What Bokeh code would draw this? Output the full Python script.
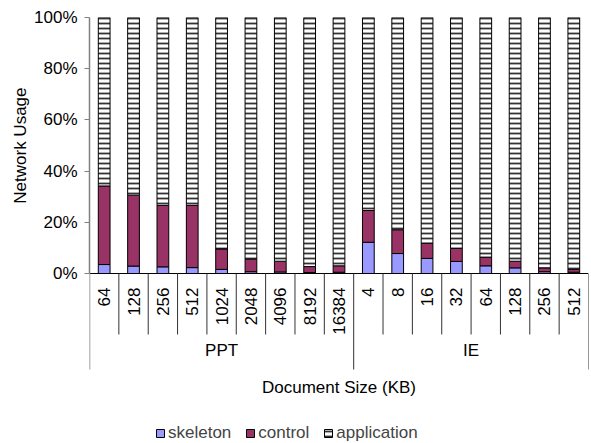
import numpy as np
from bokeh.plotting import figure
from bokeh.models import (FactorRange, Range1d, FixedTicker, PrintfTickFormatter,
                          Legend, LegendItem, ColumnDataSource, Title)
from bokeh.core.properties import value
from bokeh.embed import file_html
from bokeh.resources import INLINE

# ---- data -------------------------------------------------------------
groups = ["PPT", "IE"]
ppt_sizes = ["64", "128", "256", "512", "1024", "2048", "4096", "8192", "16384"]
ie_sizes = ["4", "8", "16", "32", "64", "128", "256", "512"]

# share of network traffic, percent
ppt_skeleton = [3.5, 2.9, 2.6, 2.3, 1.6, 0.7, 0.6, 0.4, 0.5]
ppt_control = [30.7, 27.7, 24.0, 24.3, 8.0, 4.9, 4.2, 2.3, 2.5]
ie_skeleton = [12.2, 7.8, 5.9, 4.7, 3.0, 2.2, 0.7, 0.5]
ie_control = [12.4, 9.3, 5.9, 5.1, 3.4, 2.6, 1.5, 1.1]

y_ticks = [0, 20, 40, 60, 80, 100]
series_names = ["skeleton", "control", "application"]

# ---- derived table ----------------------------------------------------
factors = [("PPT", s) for s in ppt_sizes] + [("IE", s) for s in ie_sizes]
sizes = ppt_sizes + ie_sizes
skeleton = ppt_skeleton + ie_skeleton
control = ppt_control + ie_control
application = [round(100 - a - b, 2) for a, b in zip(skeleton, control)]

source = ColumnDataSource(dict(x=factors, skeleton=skeleton,
                               control=control, application=application))

# ---- styling / layout constants ----------------------------------------
FONT = "Liberation Sans"
FS = "17px"
W, H = 591, 443
LEFT, TOP, RIGHT = 89, 17, 3
PX_PER_PCT = 2.56                      # vertical pixels per percent
Y_MIN = 100 - (H - TOP) / PX_PER_PCT   # frame runs to the bottom edge

SKEL_COLOR = "#9999FF"
CTRL_COLOR = "#993366"
AXIS_GRAY = "#808080"
RULE = "#333333"

def pct_below(px):
    """Data y for a point `px` pixels below the zero line."""
    return -px / PX_PER_PCT

p = figure(width=W, height=H,
           x_range=FactorRange(*factors, group_padding=0, subgroup_padding=0,
                               factor_padding=0, range_padding=0),
           y_range=Range1d(Y_MIN, 100),
           output_backend="svg", toolbar_location=None,
           x_axis_location=None,
           min_border_left=LEFT, min_border_top=TOP,
           min_border_right=RIGHT, min_border_bottom=0)
p.outline_line_color = None
p.grid.visible = False
p.background_fill_color = "white"

# ---- stacked bars -----------------------------------------------------
bars = p.vbar_stack(series_names, x="x", width=0.4, source=source,
                    fill_color=[SKEL_COLOR, CTRL_COLOR, "white"],
                    line_color="black", line_width=1)
app = bars[2].glyph
app.hatch_pattern = "horizontal_line"
app.hatch_color = RULE
app.hatch_scale = 5
app.hatch_weight = 1.8

# ---- category table beneath the bars ----------------------------------
first, last = factors[0], factors[-1]
p.segment(x0=[first + (-0.5,)], y0=[0], x1=[last + (0.5,)], y1=[0],
          line_color="black", line_width=1)

cat_lines = [f + (-0.5,) for f in factors[1:] if f != ("IE", ie_sizes[0])]
p.segment(x0=cat_lines, y0=0, x1=cat_lines, y1=pct_below(61),
          line_color=RULE, line_width=1)

group_lines = [("IE", ie_sizes[0], -0.5), last + (0.5,)]
p.segment(x0=group_lines, y0=0, x1=group_lines, y1=pct_below(96),
          line_color=RULE, line_width=1)
p.segment(x0=[first + (-0.5,)], y0=[0], x1=[first + (-0.5,)], y1=[pct_below(96)],
          line_color=AXIS_GRAY, line_width=1.5)

p.text(x=factors, y=pct_below(14), text=sizes, angle=np.pi / 2,
       text_align="right", text_baseline="middle",
       text_font=value(FONT), text_font_size=FS, text_color="black")
p.text(x=groups, y=pct_below(77), text=groups,
       text_align="center", text_baseline="middle",
       text_font=value(FONT), text_font_size=FS, text_color="black")
mid = factors[len(factors) // 2]
p.text(x=[mid], y=[pct_below(114)], text=["Document Size (KB)"],
       text_align="center", text_baseline="middle",
       text_font=value(FONT), text_font_size=FS, text_color="black")

# ---- y axis -----------------------------------------------------------
ax = p.yaxis[0]
ax.bounds = (0, 100)
ax.ticker = FixedTicker(ticks=y_ticks)
ax.formatter = PrintfTickFormatter(format="%d%%")
ax.axis_line_color = AXIS_GRAY
ax.axis_line_width = 1.5
ax.major_tick_line_color = AXIS_GRAY
ax.major_tick_out = 5
ax.major_tick_in = 0
ax.minor_tick_line_color = None
ax.major_label_standoff = 7
ax.major_label_text_font = FONT
ax.major_label_text_font_size = FS
ax.major_label_text_color = "black"

# axis title, pushed up so it sits beside the 0-100% span
p.add_layout(Title(text="Network Usage", align="right", offset=70,
                   text_font=FONT, text_font_size=FS, text_font_style="normal",
                   text_color="black", standoff=4), "left")

# ---- legend -----------------------------------------------------------
legend = Legend(items=[LegendItem(label=n, renderers=[r]) for n, r in zip(series_names, bars)],
                orientation="horizontal", location=(66, 0),
                label_text_font=FONT, label_text_font_size=FS,
                glyph_width=10, glyph_height=10, label_standoff=3, spacing=14,
                label_height=18, padding=0, margin=0,
                border_line_color=None, background_fill_alpha=0)
p.add_layout(legend)

open("out.html", "w").write(file_html(p, INLINE))
